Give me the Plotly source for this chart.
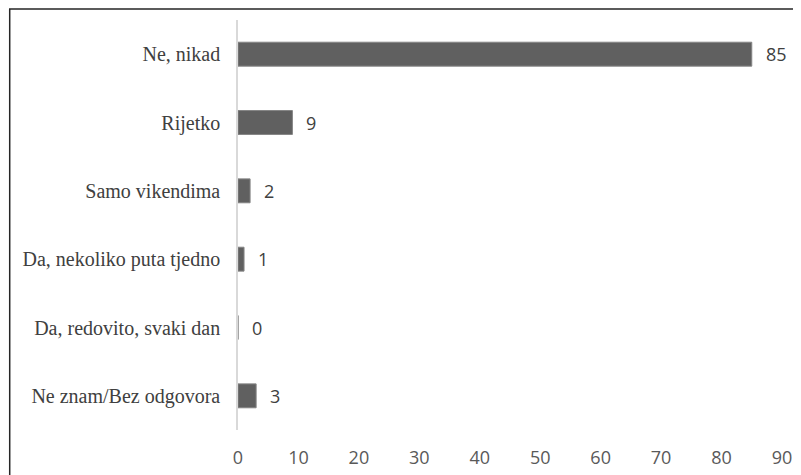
import plotly.graph_objects as go

categories = ["Ne, nikad", "Rijetko", "Samo vikendima", "Da, nekoliko puta tjedno",
              "Da, redovito, svaki dan", "Ne znam/Bez odgovora"]
values = [85, 9, 2, 1, 0, 3]
x_ticks = [0, 10, 20, 30, 40, 50, 60, 70, 80, 90]

# page has an 8px body margin; figure sized so the picture lines up with the window
OFF = 8
W, H = 801 - OFF, 475 - OFF
L, T = 237.5 - OFF, 20 - OFF
R = W - (782 - OFF)
B = H - (430 - OFF)
pw, ph = W - L - R, H - T - B

fig = go.Figure()
fig.add_trace(go.Bar(
    y=categories, x=values, orientation="h",
    marker=dict(color="#606060", line=dict(color="#858585", width=1)),
    hoverinfo="skip",
))

for c, v in zip(categories, values):
    fig.add_annotation(x=v, y=c, text=str(v), showarrow=False, xanchor="left",
                       xshift=12, font=dict(family="Open Sans", size=18, color="#404040"))

def px_to_paper_x(px):
    return (px - L) / pw

def px_to_paper_y(py):
    return (H - B - py) / ph

fig.add_shape(type="rect", xref="paper", yref="paper",
              x0=px_to_paper_x(1), x1=px_to_paper_x(W + 20),
              y0=px_to_paper_y(H + 20), y1=px_to_paper_y(1),
              line=dict(color="#262626", width=1.5), fillcolor="rgba(0,0,0,0)", layer="above")

fig.update_layout(
    width=W, height=H,
    margin=dict(l=L, r=R, t=T, b=B, pad=0, autoexpand=False),
    paper_bgcolor="white", plot_bgcolor="white",
    showlegend=False, bargap=0.65,
    xaxis=dict(range=[0, 90], tickvals=x_ticks, showgrid=False, zeroline=False,
               showline=False, ticks="", ticklabelstandoff=15, automargin=False,
               tickfont=dict(family="Open Sans", size=18, color="#595959")),
    yaxis=dict(autorange="reversed", showgrid=False, zeroline=False,
               showline=True, linecolor="#d9d9d9", linewidth=1.5, ticks="",
               ticklabelstandoff=12, automargin=False,
               tickfont=dict(family="Liberation Serif", size=20, color="#404040")),
)

fig.write_html("out.html")
